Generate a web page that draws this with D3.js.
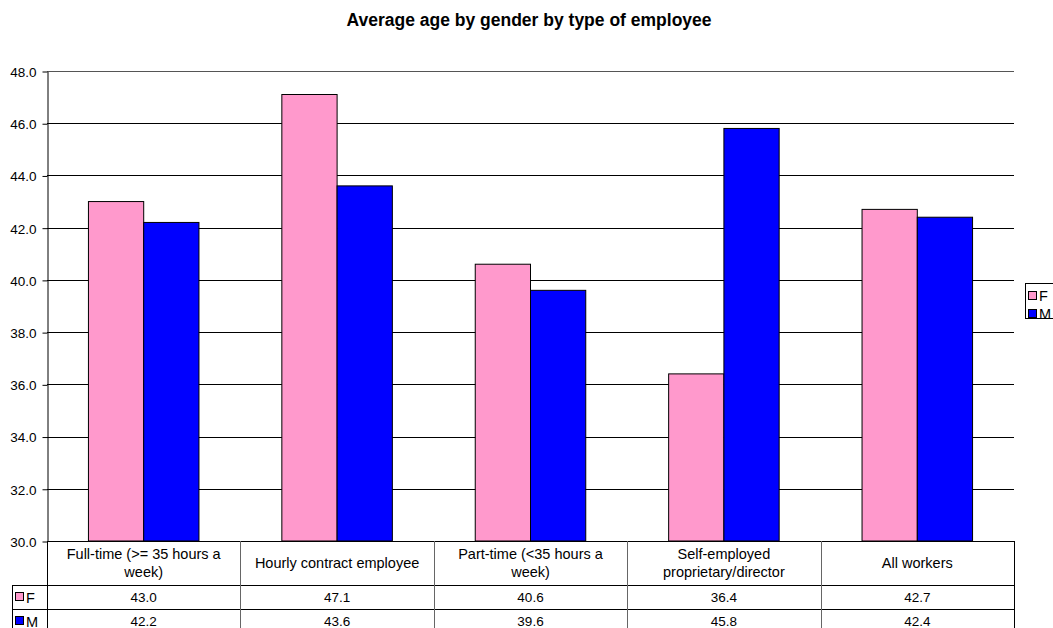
<!DOCTYPE html>
<html><head><meta charset="utf-8">
<script src="https://cdn.jsdelivr.net/npm/d3@7"></script>
<style>body{margin:0;background:#fff}svg{display:block;font-family:"Liberation Sans",Arial,sans-serif}</style>
</head><body>
<svg id="c" width="1053" height="628"></svg>
<script>
const title = "Average age by gender by type of employee";
const categories = [["Full-time (>= 35 hours a","week)"],["Hourly contract employee"],["Part-time (<35 hours a","week)"],["Self-employed","proprietary/director"],["All workers"]];
const seriesNames = ["F","M"];
const valuesF = [43.0, 47.1, 40.6, 36.4, 42.7];
const valuesM = [42.2, 43.6, 39.6, 45.8, 42.4];
const yTicks = [30,32,34,36,38,40,42,44,46,48];
const colors = ["#FF99CC","#0000FF"];

const svg = d3.select("#c");
const L = 47, R = 1014, T = 71, B = 541;
const x = d3.scaleBand().domain(d3.range(categories.length)).range([L,R]).paddingInner(0).paddingOuter(0);
const y = d3.scaleLinear().domain([30,48]).range([B,T]);
const bw = x.bandwidth()/3.5;

svg.append("text").attr("x",529).attr("y",26).attr("text-anchor","middle")
  .attr("font-weight","bold").attr("font-size",17.5).text(title);

// gridlines
svg.append("g").selectAll("line").data(yTicks.slice(1)).join("line")
  .attr("x1",L).attr("x2",R).attr("y1",d=>Math.round(y(d))+0.5).attr("y2",d=>Math.round(y(d))+0.5)
  .attr("stroke",d=>d===48?"#555":"#000").attr("stroke-width",1);

// y axis
const ya = d3.axisLeft(y).tickValues(yTicks).tickFormat(d3.format(".1f")).tickSize(5).tickSizeOuter(0);
const yg = svg.append("g").attr("transform",`translate(${L+0.5},0.5)`).attr("font-size",13.5).call(ya);
yg.attr("font-size",13.5).attr("font-family","Liberation Sans, Arial, sans-serif");
yg.select(".domain").attr("stroke","#000");
yg.selectAll(".tick line").attr("stroke","#000");
yg.selectAll("text").style("font-size","13.5px").attr("fill","#000").attr("x",-11).attr("dy","0.36em");

// bars
const series = [valuesF, valuesM];
series.forEach((vals,si)=>{
  svg.append("g").selectAll("rect").data(vals).join("rect")
    .attr("x",(d,i)=>x(i)+bw*0.75+si*bw)
    .attr("y",d=>y(d))
    .attr("width",bw)
    .attr("height",d=>B-y(d))
    .attr("fill",colors[si]).attr("stroke","#000").attr("stroke-width",1);
});

// data table
const rowH1 = 44, rowH = 24;
const tb = svg.append("g").attr("stroke","#000").attr("stroke-width",1).attr("fill","none");
tb.append("line").attr("x1",L).attr("x2",R).attr("y1",B+0.5).attr("y2",B+0.5);
[B+rowH1, B+rowH1+rowH, B+rowH1+2*rowH].forEach(yy=>{
  tb.append("line").attr("x1",12).attr("x2",R).attr("y1",yy+0.5).attr("y2",yy+0.5);
});
d3.range(categories.length+1).forEach(i=>{
  const xx = i<categories.length ? x(i) : R;
  tb.append("line").attr("x1",Math.round(xx)+0.5).attr("x2",Math.round(xx)+0.5).attr("y1",B).attr("y2",640)
    .attr("stroke", (i>0 && i<categories.length) ? "#666" : "#000");
});
tb.append("line").attr("x1",12.5).attr("x2",12.5).attr("y1",B+rowH1).attr("y2",640);

const tt = svg.append("g").attr("fill","#000").attr("text-anchor","middle");
categories.forEach((lines,i)=>{
  const cx = x(i)+x.bandwidth()/2;
  const n = lines.length;
  lines.forEach((ln,k)=>{
    tt.append("text").attr("x",cx).attr("font-size",14.5).attr("y",B+rowH1/2+5+(k-(n-1)/2)*18).text(ln);
  });
});
series.forEach((vals,si)=>{
  vals.forEach((v,i)=>{
    tt.append("text").attr("x",x(i)+x.bandwidth()/2).attr("font-size",13.5).attr("y",B+rowH1+si*rowH+rowH/2+5).text(d3.format(".1f")(v));
  });
  const ry = B+rowH1+si*rowH+rowH/2;
  svg.append("rect").attr("x",15.5).attr("y",ry-4.5).attr("width",8).attr("height",8).attr("fill",colors[si]).attr("stroke","#000");
  svg.append("text").attr("x",26).attr("y",ry+5.5).attr("font-size",14.5).text(seriesNames[si]);
});

// legend
const lg = svg.append("g");
lg.append("rect").attr("x",1025.5).attr("y",283.5).attr("width",40).attr("height",35).attr("fill","#fff").attr("stroke","#000");
seriesNames.forEach((n,i)=>{
  const ly = 296+i*18;
  lg.append("rect").attr("x",1028.5).attr("y",ly-4.5).attr("width",8).attr("height",8).attr("fill",colors[i]).attr("stroke","#000");
  lg.append("text").attr("x",1039).attr("y",ly+5).attr("font-size",14.5).text(n);
});
</script>
</body></html>
